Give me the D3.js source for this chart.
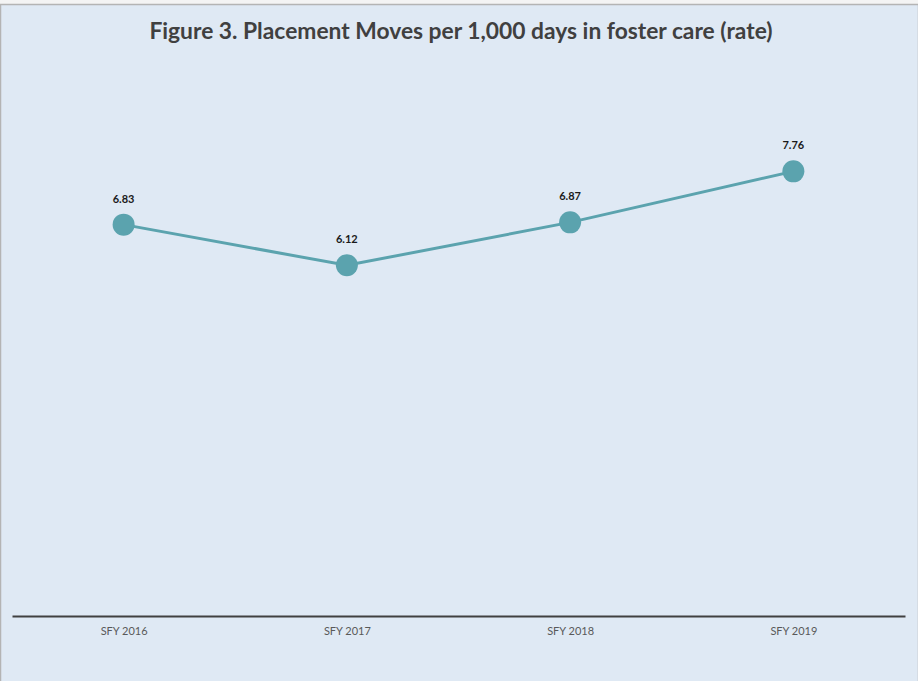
<!DOCTYPE html>
<html>
<head>
<meta charset="utf-8">
<script src="https://cdn.jsdelivr.net/npm/d3@7"></script>
<style>
  body { margin: 0; background: #f4f4f4; }
  svg { display: block; }
</style>
</head>
<body>
<div id="chart"></div>
<script>
// chart data
let years = ["SFY 2016", "SFY 2017", "SFY 2018", "SFY 2019"];
let rates = [6.83, 6.12, 6.87, 7.76];
let chartTitle = "Figure 3. Placement Moves per 1,000 days in foster care (rate)";

let width = 918, height = 681;
let margin = {top: 43, right: 13, bottom: 65, left: 12};

let svg = d3.select("#chart")
  .append("svg")
  .attr("width", width)
  .attr("height", height);

// chart area background with grey border
svg.append("rect")
  .attr("x", 0.5)
  .attr("y", 4.5)
  .attr("width", width)
  .attr("height", height)
  .style("fill", "#dfe9f4")
  .style("stroke", "#b4b4b4")
  .style("stroke-width", 1.5);

svg.append("text")
  .attr("x", 461)
  .attr("y", 39)
  .attr("text-anchor", "middle")
  .style("font-family", "Lato, 'Open Sans', sans-serif")
  .style("font-weight", "bold")
  .style("font-size", "22.8px")
  .style("fill", "#404040")
  .text(chartTitle);

let x = d3.scalePoint()
  .domain(years)
  .range([margin.left, width - margin.right])
  .padding(0.5);

let y = d3.scaleLinear()
  .domain([0, 10])
  .range([height - margin.bottom, margin.top]);

// x axis: baseline only, labels below
let xAxis = svg.append("g")
  .attr("transform", `translate(0,${y(0)})`)
  .call(d3.axisBottom(x).tickSize(0).tickPadding(11));

xAxis.select(".domain")
  .style("stroke", "#404040")
  .style("stroke-width", 2);

xAxis.selectAll("text")
  .style("font-family", "Lato, 'Open Sans', sans-serif")
  .style("font-size", "11px")
  .style("fill", "#595959");

let line = d3.line()
  .x((d, i) => x(years[i]))
  .y(d => y(d));

svg.append("path")
  .datum(rates)
  .attr("d", line)
  .style("fill", "none")
  .style("stroke", "#5ba3ae")
  .style("stroke-width", 3);

svg.selectAll("circle.pt")
  .data(rates)
  .enter()
  .append("circle")
  .attr("class", "pt")
  .attr("cx", (d, i) => x(years[i]))
  .attr("cy", d => y(d))
  .attr("r", 11)
  .style("fill", "#5ba3ae");

svg.selectAll("text.lbl")
  .data(rates)
  .enter()
  .append("text")
  .attr("class", "lbl")
  .attr("x", (d, i) => x(years[i]))
  .attr("y", d => y(d) - 22)
  .attr("text-anchor", "middle")
  .style("font-family", "Lato, 'Open Sans', sans-serif")
  .style("font-weight", "bold")
  .style("font-size", "11px")
  .style("fill", "#1a1a1a")
  .text(d => d.toFixed(2));
</script>
</body>
</html>
